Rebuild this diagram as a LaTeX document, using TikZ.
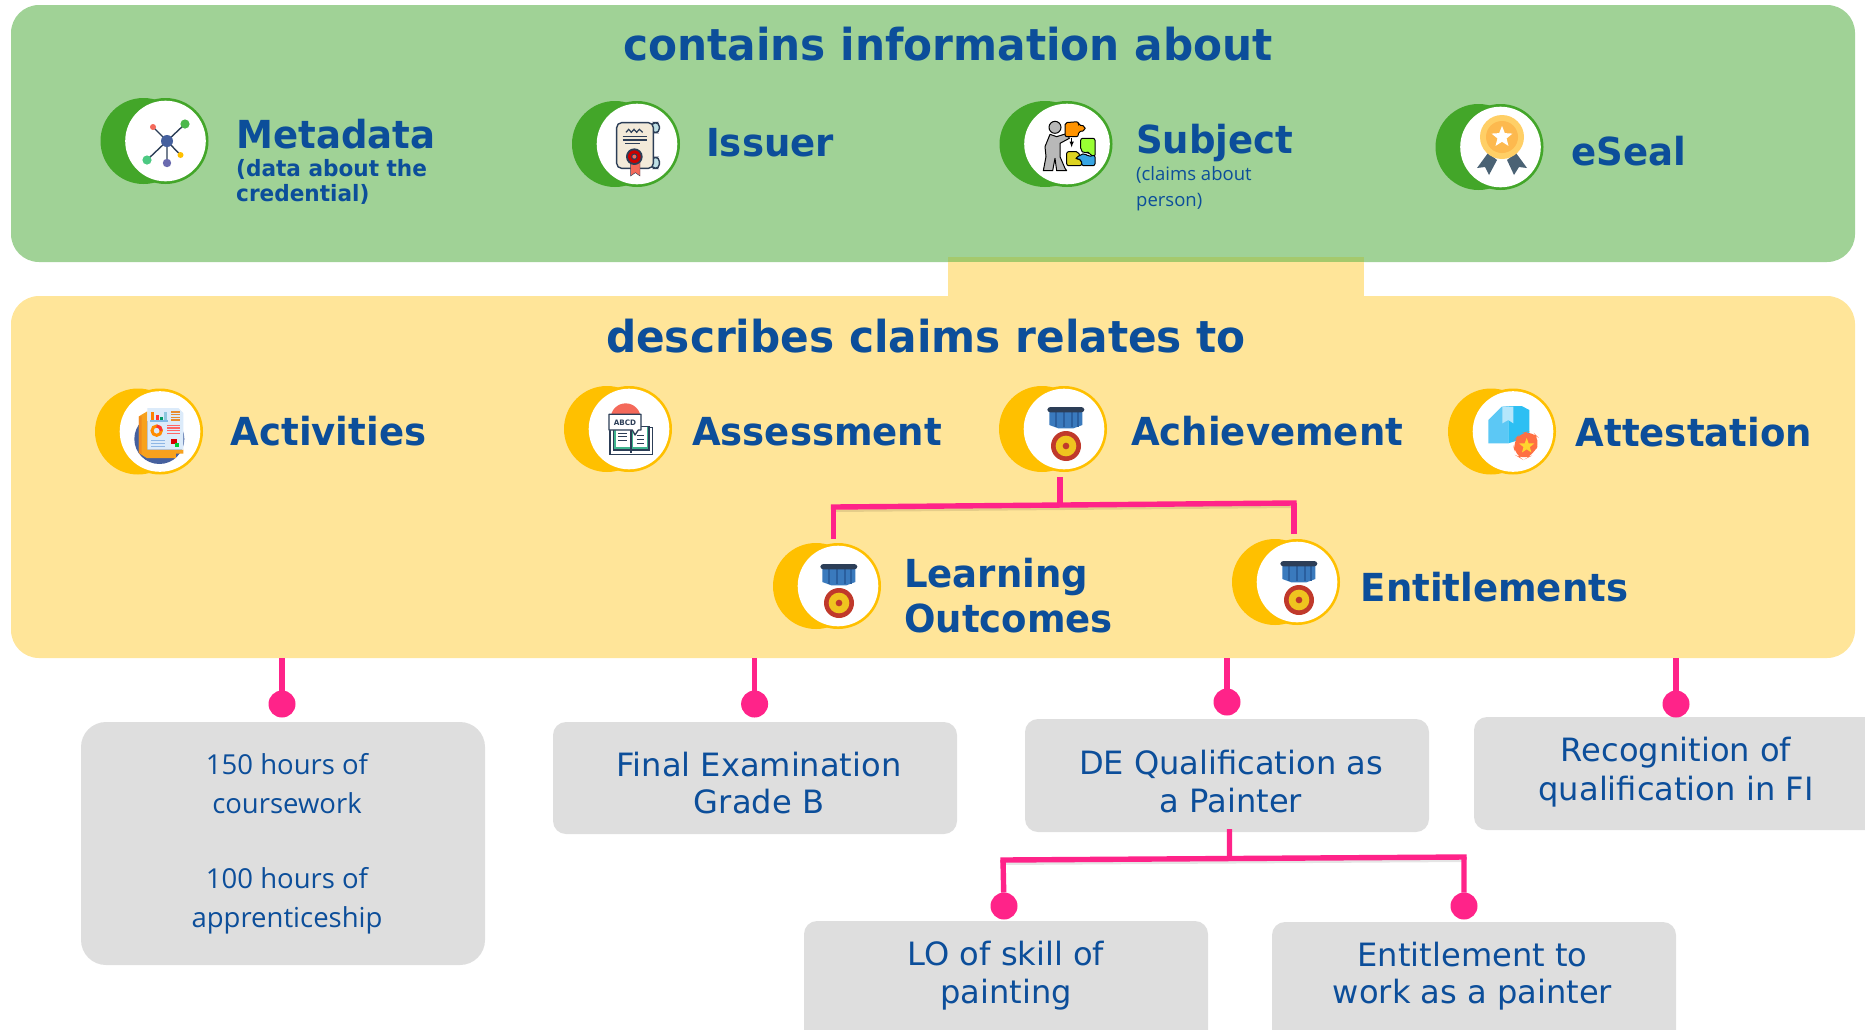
\documentclass[tikz,border=0pt]{standalone}
\usepackage{fontspec}
\setmainfont{Open Sans}
\newfontfamily\djb[FakeStretch=0.96]{DejaVu Sans Bold}
\newfontfamily\djr{DejaVu Sans}
\definecolor{tblue}{HTML}{0C4E9A}
\definecolor{pgreen}{HTML}{A0D296}
\definecolor{pyellow}{HTML}{FFE599}
\definecolor{pgray}{HTML}{DEDEDE}
\definecolor{dgreen}{HTML}{43A629}
\definecolor{gold}{HTML}{FFC000}
\definecolor{pinkc}{HTML}{FF2389}
\definecolor{stripc}{HTML}{A5C96C}
\definecolor{navy}{HTML}{2C3E57}
\definecolor{ribbon}{HTML}{3A7ABD}
\definecolor{ribbond}{HTML}{2A5F9E}
\definecolor{medalr}{HTML}{C0392B}
\definecolor{medaly}{HTML}{EFC41F}
\definecolor{sealrib}{HTML}{4A6274}
\definecolor{sealo}{HTML}{FFCF66}
\definecolor{seali}{HTML}{FDB94E}
\definecolor{boxl}{HTML}{5CC8F5}
\definecolor{boxd}{HTML}{2CBFF3}
\definecolor{boxs}{HTML}{B5E6FB}
\definecolor{badge}{HTML}{FF7043}
\definecolor{badgey}{HTML}{FFD52E}
\definecolor{coral}{HTML}{F4695A}
\definecolor{bookg}{HTML}{3FB58F}
\definecolor{paper}{HTML}{F3EAD9}
\definecolor{scroll}{HTML}{BFE0E6}
\definecolor{sheet}{HTML}{DCEBFA}
\definecolor{sheeto}{HTML}{F7A11D}
\definecolor{sheetd}{HTML}{F08A1D}
\definecolor{disc}{HTML}{45609E}
\tikzset{
 x=1pt,y=-1pt,
 panel/.style={rounded corners=28pt,inner sep=0pt,outer sep=0pt},
 gbox/.style={fill=pgray,inner sep=0pt,outer sep=0pt,rounded corners=13pt},
 link/.style={draw=pinkc,line width=5.4pt},
 bar/.style={link,line cap=rect,preaction={draw=black,opacity=.10,line width=4pt,transform canvas={yshift=-3pt}}},
 pin/.style={circle,fill=pinkc,minimum size=27pt,inner sep=0pt,outer sep=0pt},
 title/.style={text=tblue,font=\djb\fontsize{44}{50}\selectfont,anchor=base,inner sep=0pt},
 head/.style={text=tblue,font=\djb\fontsize{38.6}{44}\selectfont,anchor=base west,inner sep=0pt,align=left},
 subb/.style={text=tblue,font=\djb\fontsize{22.5}{25}\selectfont,anchor=base west,inner sep=0pt,align=left},
 subr/.style={text=tblue,font=\fontsize{18.5}{26.7}\selectfont,anchor=base west,inner sep=0pt,align=left},
 smallt/.style={text=tblue,font=\fontsize{27.5}{39}\selectfont,anchor=base,inner sep=0pt,align=center},
 bigt/.style={text=tblue,font=\djr\fontsize{32.1}{38}\selectfont,anchor=base,inner sep=0pt,align=center},
}
\newcommand{\iconbase}[5]{%
 \coordinate (#1) at (#2,#3);
 \fill[#4] (#2-22,#3) ellipse [x radius=#5,y radius=43];
 \fill[#4] (#2,#3) ellipse [x radius=#5,y radius=43];
 \fill[white] (#2,#3) ellipse [x radius=#5-2.7,y radius=40.3];
}
\newcommand{\mystar}[5]{% x y R r colour
 \fill[#5,shift={(#1,#2)}] (-90:#3)--(-54:#4)--(-18:#3)--(18:#4)--(54:#3)--(90:#4)--(126:#3)--(162:#4)--(198:#3)--(234:#4)--cycle;
}
\newcommand{\medal}[2]{%
 \begin{scope}[shift={(#1,#2)},x=.3333pt,y=-.3333pt]
  \fill[ribbon] (88,80)--(187,80)--(187,120)--(160,130)--(115,130)--(88,120)--cycle;
  \foreach \s in {104,128,152,170}{\fill[ribbond] (\s,82) rectangle (\s+7,127);}
  \fill[navy,rounded corners=3pt] (82,66) rectangle (193,82);
  \fill[medalr] (138,183) circle (45);
  \fill[medaly] (138,183) circle (31);
  \fill[medalr] (138,183) circle (10);
 \end{scope}}
\begin{document}
\begin{tikzpicture}
\useasboundingbox (0,0) rectangle (1865,1029);
\clip (0,0) rectangle (1865,1029);
% panels
\node[panel,fill=pgreen,minimum width=1844pt,minimum height=257pt] (top) at (933,133.5) {};
\fill[pyellow] (948,262) rectangle (1364,300);
\fill[stripc] (948,257) rectangle (1364,262);
\node[panel,fill=pyellow,minimum width=1844pt,minimum height=362pt] (mid) at (933,477) {};
\node[title] (t1) at (948,60) {contains information about};
\node[title] (t2) at (926,352) {describes claims relates to};
% green icons
\iconbase{imeta}{165.5}{141}{dgreen}{43}
\iconbase{iissuer}{637}{144}{dgreen}{43}
\iconbase{isubject}{1067}{144}{dgreen}{45.5}
\iconbase{iseal}{1500.5}{147}{dgreen}{43}
% metadata icon
\begin{scope}[shift={(165,141)}]
 \draw[navy,line width=1.4pt] (2,0)--(-12,-14) (2,0)--(20,-17) (2,0)--(-18,19) (2,0)--(2,22) (2,0)--(15.5,14);
 \fill[disc] (2,0) circle (6);
 \fill[coral] (-12,-14) circle (3);
 \fill[green!60!black!70!white] (20,-17) circle (4.6);
 \fill[teal!60!green!70!white] (-18,19) circle (4.6);
 \fill[blue!30!gray!90] (2,22) circle (4.2);
 \fill[gold] (15.5,14) circle (3);
\end{scope}
% issuer icon
\begin{scope}[shift={(590,100)},x=.3333pt,y=-.3333pt]
 \draw[navy,fill=scroll,line width=1.4pt,rounded corners=4pt] (185,68) rectangle (208,98);
 \draw[navy,fill=scroll,line width=1.4pt,rounded corners=4pt] (185,172) rectangle (208,205);
 \draw[navy,fill=paper,line width=1.4pt,rounded corners=5pt] (80,68) rectangle (190,205);
 \draw[navy,line width=1.2pt] (108,97)--(116,88)--(124,97)--(132,88)--(140,97)--(148,88)--(158,97);
 \draw[navy,line width=1.1pt] (98,110)--(170,110) (98,120)--(170,120) (105,130)--(150,130);
 \fill[coral,draw=navy] (122,180)--(150,180)--(150,228)--(136,218)--(122,228)--cycle;
 \fill[navy] (133,170) circle (25);
 \fill[red!80!black] (133,170) circle (19);
 \fill[navy] (133,170) circle (10);
 \fill[coral] (133,170) circle (6);
\end{scope}
% subject icon
\begin{scope}[shift={(1010,100)},x=.3333pt,y=-.3333pt]
 \draw[black,fill=black!28,line width=1pt,line join=round] (120,103)--(140,110)--(172,100)--(178,115)--(150,130)--(150,170)--(165,205)--(170,212)--(140,212)--(135,175)--(128,212)--(100,212)--(108,170)--(105,140)--cycle;
 \draw[black,fill=black!28,line width=1pt] (135,82) circle (18);
 \draw[black,fill=orange!85!yellow,line width=1pt,rounded corners=2pt] (165,68)--(205,65)--(205,75)--(225,78)--(225,92)--(205,95)--(205,110)--(165,110)--cycle;
 \draw[black,fill=green!50!yellow!80!white,line width=1pt,rounded corners=2pt] (212,115)--(255,115)--(255,170)--(240,165)--(235,155)--(222,160)--(212,150)--cycle;
 \draw[black,fill=yellow!85!black,line width=1pt,rounded corners=2pt] (170,155)--(205,155)--(210,170)--(195,175)--(215,180)--(215,197)--(170,197)--cycle;
 \draw[black,fill=cyan!80!blue!80!white,line width=1pt,rounded corners=2pt] (255,165)--(255,197)--(215,197)--(215,180)--(197,175)--(210,165)--(225,160)--(235,170)--cycle;
 \draw[black,line width=1pt,-latex] (185,115)--(185,142);
\end{scope}
% eSeal icon
\fill[sealrib] (1488,153)--(1477,168)--(1485,167)--(1489,175)--(1497,160)--cycle;
\fill[sealrib] (1516,153)--(1527,168)--(1519,167)--(1514,175)--(1507,160)--cycle;
\fill[sealo] (1502,137) circle (22);
\fill[seali] (1502,137) circle (16);
\mystar{1502}{137}{11}{4.8}{white}
% labels green
\node[head] (lmeta) at (236.5,148) {Metadata};
\node[subb] (lmetas) at (236,176.7) {(data about the};
\node[subb] (lmetat) at (236,201.7) {credential)};
\node[head] (lissuer) at (706,156) {Issuer};
\node[head] (lsubj) at (1136,153.5) {Subject};
\node[subr] (lsubs) at (1136,180) {(claims about};
\node[subr] (lsubt) at (1136,206.7) {person)};
\node[head] (lseal) at (1571,165) {eSeal};
% yellow icons
\iconbase{iact}{160}{431.5}{gold}{43}
\iconbase{iass}{629}{429}{gold}{43}
\iconbase{iach}{1064}{429}{gold}{43}
\iconbase{iatt}{1513}{431.5}{gold}{43}
\iconbase{ilo}{838}{586}{gold}{43}
\iconbase{ient}{1297}{582}{gold}{43}
% activities icon
\begin{scope}[shift={(115,388)},x=.3333pt,y=-.3333pt]
 \begin{scope}
  \clip (40,100) rectangle (230,240);
  \fill[disc] (133,153) circle (75);
 \end{scope}
 \fill[sheeto] (80,80)--(97,70)--(97,185)--(205,185)--(205,197)--(183,197)--(183,210)--(95,210)--(72,195)--(72,85)--cycle;
 \fill[sheetd] (72,85)--(80,85)--(80,200)--(72,195)--cycle;
 \fill[sheet] (97,60)--(190,60)--(205,75)--(205,185)--(97,185)--cycle;
 \fill[orange] (109,72) rectangle (118,97);
 \fill[red!80!white] (124,82) rectangle (131,97);
 \fill[teal!80!green] (135,88) rectangle (144,97);
 \fill[cyan!50!teal!50!white] (148,72) rectangle (156,97);
 \fill[cyan!70!blue!50!white] (105,97) rectangle (158,102);
 \foreach \yy in {70,78,86,94}{\fill[orange!60!brown!90!white] (168,\yy) rectangle (195,\yy+4);}
 \foreach \yy in {110,118,126,134}{\fill[red!60!white] (155,\yy) rectangle (195,\yy+4);}
 \foreach \yy in {155,164,173}{\fill[cyan!60!blue!45!white] (108,\yy) rectangle (150,\yy+4);}
 \draw[orange!90!yellow,line width=3pt] (125,128) circle (14);
 \draw[red!80!white,line width=3pt] (125,114) arc (-90:0:14);
 \fill[red!85!black] (168,152) rectangle (185,168);
 \fill[green!60!teal] (180,165) rectangle (192,177);
\end{scope}
% assessment icon
\begin{scope}[shift={(585,385)},x=.3333pt,y=-.3333pt]
 \fill[coral] (122,100) circle (45);
 \draw[navy,fill=white,line width=1.3pt] (75,128) rectangle (202,208);
 \draw[navy,fill=bookg,line width=1.1pt] (85,125) rectangle (192,195);
 \fill[white] (92,125) rectangle (135,185);
 \fill[white] (143,125) rectangle (185,185);
 \draw[navy,line width=1.1pt] (138,125)--(138,205);
 \draw[navy,line width=1pt] (100,145)--(125,145) (100,155)--(125,155) (100,165)--(125,165) (155,152)--(178,152) (155,162)--(178,162) (155,174)--(178,174);
 \draw[navy,fill=white,line width=1.3pt,line join=round] (72,88)--(168,88)--(168,135)--(160,135)--(150,150)--(142,135)--(72,135)--cycle;
 \node[text=navy,font=\djb\fontsize{7.5}{8}\selectfont,inner sep=0pt] (labcd) at (120,112) {ABCD};
\end{scope}
% medals
\medal{1020}{385}
\medal{793}{542}
\medal{1253}{539}
% attestation icon
\begin{scope}[shift={(1420,370)},x=.3333pt,y=-.3333pt]
 \fill[boxl] (205,150)--(245,110)--(265,108)--(265,220)--(205,220)--cycle;
 \fill[boxd] (265,108)--(305,108)--(328,120)--(328,200)--(265,220)--cycle;
 \fill[boxs] (247,110)--(280,110)--(280,160)--(265,150)--(247,160)--cycle;
 \fill[badge,rounded corners=10pt] (278,215)--(300,190)--(335,182)--(362,210)--(340,255)--(310,270)--(285,255)--cycle;
 \mystar{320}{228}{24}{10}{badgey}
\end{scope}
% labels yellow
\node[head] (lact) at (230.5,445) {Activities};
\node[head] (lass) at (692,445) {Assessment};
\node[head] (lach) at (1131,445) {Achievement};
\node[head] (latt) at (1575.5,446) {Attestation};
\node[head] (llo) at (904,587.5) {Learning};
\node[head] (llo2) at (904,632) {Outcomes};
\node[head] (lent) at (1360.5,601) {Entitlements};
% achievement tree
\coordinate (s1) at (1060,477);
\coordinate (s1b) at (1060,505);
\coordinate (b1l) at (833.5,507);
\coordinate (b1r) at (1294,503);
\coordinate (e1l) at (833.5,539);
\coordinate (e1r) at (1294,534);
\draw[bar] (b1l)--(b1r);
\draw[link] (s1)--(s1b) (b1l)--(e1l) (b1r)--(e1r);
% grey boxes
\node[gbox,rounded corners=25pt,minimum width=404pt,minimum height=243pt] (b1) at (283,843.5) {};
\node[gbox,minimum width=404pt,minimum height=112pt] (b2) at (755,778) {};
\node[gbox,minimum width=404pt,minimum height=113pt] (b3) at (1227,775.5) {};
\node[gbox,minimum width=404pt,minimum height=113pt] (b4) at (1676,773.5) {};
\node[gbox,minimum width=404pt,minimum height=130pt] (b5) at (1006,986) {};
\node[gbox,minimum width=404pt,minimum height=130pt] (b6) at (1474,987) {};
\node[smallt] (x1a) at (287,774) {150 hours of};
\node[smallt] (x1b) at (287,813) {coursework};
\node[smallt] (x1c) at (287,888.5) {100 hours of};
\node[smallt] (x1d) at (287,927.5) {apprenticeship};
\node[bigt] (x2a) at (759,776) {Final Examination};
\node[bigt] (x2b) at (759,813.5) {Grade B};
\node[bigt] (x3a) at (1231,774) {DE Qualification as};
\node[bigt] (x3b) at (1231,812) {a Painter};
\node[bigt] (x4a) at (1676,761) {Recognition of};
\node[bigt] (x4b) at (1676,800) {qualification in FI};
\node[bigt] (x5a) at (1006,965) {LO of skill of};
\node[bigt] (x5b) at (1006,1003.5) {painting};
\node[bigt] (x6a) at (1472.5,966) {Entitlement to};
\node[bigt] (x6b) at (1472.5,1003.5) {work as a painter};
% pins
\node[pin] (p1) at (282,704) {};
\node[pin] (p2) at (754.6,704) {};
\node[pin] (p3) at (1227,702) {};
\node[pin] (p4) at (1676,704) {};
\draw[link] (mid.south -| p1) -- (p1);
\draw[link] (mid.south -| p2) -- (p2);
\draw[link] (mid.south -| p3) -- (p3);
\draw[link] (mid.south -| p4) -- (p4);
\node[pin] (p5) at (1004,906) {};
\node[pin] (p6) at (1464,906) {};
\coordinate (s2) at (1229.5,829);
\coordinate (s2b) at (1229.5,858);
\coordinate (b2l) at (1003,860);
\coordinate (b2r) at (1464,857);
\draw[bar] (b2l)--(b2r);
\draw[link] (s2)--(s2b) (b2l)--(p5) (b2r)--(p6);
\end{tikzpicture}
\end{document}
